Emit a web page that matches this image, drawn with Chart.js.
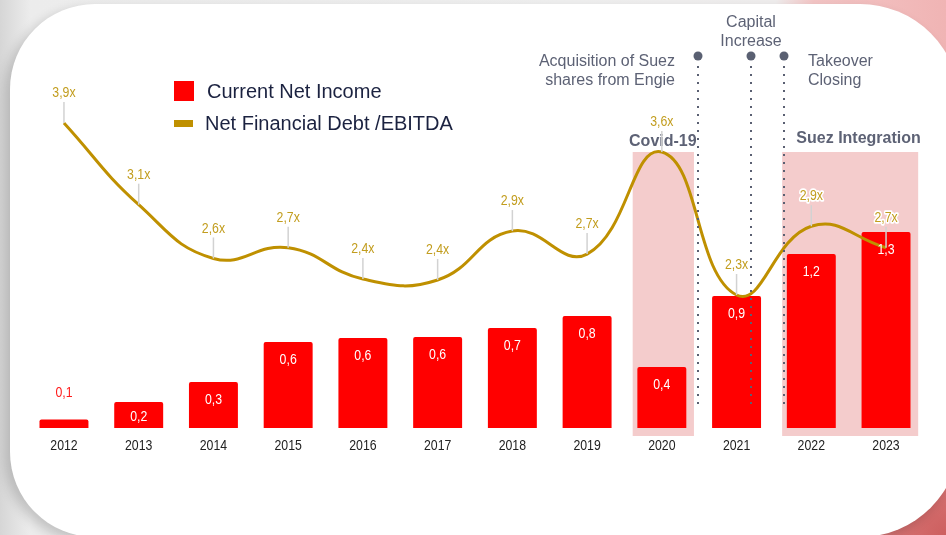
<!DOCTYPE html>
<html>
<head>
<meta charset="utf-8">
<script src="https://cdn.jsdelivr.net/npm/chart.js@4.4.1/dist/chart.umd.min.js"></script>
<style>
  html,body{margin:0;padding:0;}
  body{width:946px;height:535px;overflow:hidden;position:relative;
    background:
      radial-gradient(circle at 100% 100%, rgba(205,95,95,1) 0px, rgba(215,115,115,0.9) 70px, rgba(230,150,150,0) 230px),
      linear-gradient(to right, #d6d6d6 0px, #ececec 30px, #f0f0f0 60%, #f0eeee 82%, #f4c6c6 86%, #f0b4b4 100%);}
  #card{position:absolute;left:10px;top:4px;width:950px;height:533px;background:#fff;
    border-radius:85px 100px 100px 85px;box-shadow:-5px 5px 12px rgba(0,0,0,0.18);}
  #c{position:absolute;left:0;top:0;}
</style>
</head>
<body>
<div id="card"></div>
<canvas id="c" width="946" height="535"></canvas>
<script>
const categories = ['2012','2013','2014','2015','2016','2017','2018','2019','2020','2021','2022','2023'];
const netIncome  = [0.099, 0.212, 0.340, 0.596, 0.622, 0.628, 0.686, 0.763, 0.436, 0.891, 1.16, 1.301];
const debtRatio  = [3.90, 3.14, 2.64, 2.74, 2.449, 2.44, 2.895, 2.681, 3.63, 2.30, 2.94, 2.74];
const seriesNames = ['Current Net Income', 'Net Financial Debt /EBITDA'];
const periods = [
  {label:'Covid-19', from:8, to:8},
  {label:'Suez Integration', from:10, to:11}
];
const events = [
  {lines:['Acquisition of Suez','shares from Engie'], at:8.484, align:'right'},
  {lines:['Capital','Increase'], at:9.193, align:'center'},
  {lines:['Takeover','Closing'], at:9.635, align:'left'}
];

const SANS = '"Liberation Sans", Arial, sans-serif';
const RED = '#ff0000';
const GOLD = '#bf9000';
const LABEL_GOLD = '#c29d1e';
const GREY_TXT = '#5d6275';
const SQUEEZE = 0.82;
const BAR_AXIS_MIN = 0.0449;

function fmt(v){ return v.toFixed(1).replace('.', ','); }

// condensed text: regular sans squeezed horizontally
function narrowText(ctx, txt, x, y, size, color, halo){
  ctx.save();
  ctx.translate(x, y);
  ctx.scale(SQUEEZE, 1);
  ctx.font = size + 'px ' + SANS;
  ctx.textAlign = 'center';
  ctx.textBaseline = 'middle';
  if(halo){
    ctx.lineJoin = 'round';
    ctx.lineWidth = 3.5;
    ctx.strokeStyle = '#ffffff';
    ctx.strokeText(txt, 0, 0);
  }
  ctx.fillStyle = color;
  ctx.fillText(txt, 0, 0);
  ctx.restore();
}

const deco = {
  id:'deco',
  beforeDatasetsDraw(chart){
    const ctx = chart.ctx, xs = chart.scales.x, ca = chart.chartArea;
    ctx.save();
    ctx.fillStyle = 'rgba(236,170,170,0.6)';
    periods.forEach(p=>{
      const x0 = xs.getPixelForValue(p.from - 0.39);
      const x1 = xs.getPixelForValue(p.to + 0.43);
      ctx.fillRect(x0, ca.top + 52, x1 - x0, ca.bottom + 8 - (ca.top + 52));
    });
    ctx.restore();
  },
  afterDatasetsDraw(chart){
    const ctx = chart.ctx, xs = chart.scales.x, ca = chart.chartArea;
    const barMeta = chart.getDatasetMeta(1);
    const lineMeta = chart.getDatasetMeta(0);
    ctx.save();

    // category labels (x axis)
    chart.data.labels.forEach((lab, i)=>{
      narrowText(ctx, lab, xs.getPixelForValue(i), ca.bottom + 18, 15, '#222222', false);
    });

    // period titles
    ctx.font = 'bold 16px ' + SANS;
    ctx.fillStyle = GREY_TXT;
    ctx.textBaseline = 'middle';
    ctx.textAlign = 'center';
    ctx.fillText(periods[0].label, xs.getPixelForValue(periods[0].from) + 1, ca.top + 42);
    ctx.textAlign = 'left';
    ctx.fillText(periods[1].label, xs.getPixelForValue(periods[1].from - 0.2), ca.top + 39);

    // event dotted lines
    events.forEach(ev=>{
      const x = Math.round(xs.getPixelForValue(ev.at));
      ctx.fillStyle = '#5a6072';
      ctx.beginPath(); ctx.arc(x, 56, 4.5, 0, Math.PI*2); ctx.fill();
      for(let y = 66; y <= 404; y += 8){ ctx.fillRect(x-1, y, 2, 2); }
      ctx.font = '16px ' + SANS;
      ctx.fillStyle = GREY_TXT;
      ctx.textBaseline = 'middle';
      if(ev.align === 'right'){ ctx.textAlign='right'; ev.lines.forEach((t,i)=>ctx.fillText(t, x - 23, 62 + i*19)); }
      else if(ev.align === 'left'){ ctx.textAlign='left'; ev.lines.forEach((t,i)=>ctx.fillText(t, x + 24, 62 + i*19)); }
      else { ctx.textAlign='center'; ev.lines.forEach((t,i)=>ctx.fillText(t, x, 23 + i*19)); }
    });

    // bar labels
    barMeta.data.forEach((bar, i)=>{
      const h = bar.base - bar.y;
      const txt = fmt(netIncome[i]);
      if(h < 16){
        narrowText(ctx, txt, bar.x, bar.y - 27, 15, '#ff1a1a', true);
      } else {
        const y = Math.min(bar.y + 18, (bar.y + bar.base)/2 + 2);
        narrowText(ctx, txt, bar.x, y, 15, '#ffffff', false);
      }
    });

    // line labels with leaders
    lineMeta.data.forEach((pt, i)=>{
      ctx.strokeStyle = '#d2d2d2';
      ctx.lineWidth = 1.5;
      ctx.beginPath(); ctx.moveTo(pt.x, pt.y - 21); ctx.lineTo(pt.x, pt.y); ctx.stroke();
      narrowText(ctx, fmt(debtRatio[i]) + 'x', pt.x, pt.y - 30, 15, LABEL_GOLD, true);
    });

    // legend
    ctx.fillStyle = RED;
    ctx.fillRect(174, 81, 20, 20);
    ctx.fillStyle = GOLD;
    ctx.fillRect(174, 120, 19, 7);
    ctx.font = '20px ' + SANS;
    ctx.fillStyle = '#1b2240';
    ctx.textAlign = 'left';
    ctx.textBaseline = 'middle';
    ctx.fillText(chart.data.datasets[1].label, 207, 92);
    ctx.fillText(chart.data.datasets[0].label, 205, 124);
    ctx.restore();
  }
};

new Chart(document.getElementById('c'), {
  data:{
    labels: categories,
    datasets:[
      {type:'line', label:seriesNames[1], data:debtRatio, yAxisID:'yr', borderColor:GOLD, borderWidth:3,
       pointRadius:0, tension:0.45, fill:false, order:0},
      {type:'bar', label:seriesNames[0], data:netIncome, yAxisID:'yb', backgroundColor:RED,
       base:BAR_AXIS_MIN, borderRadius:2, borderSkipped:'bottom',
       categoryPercentage:1, barPercentage:0.655, order:1}
    ]
  },
  options:{
    responsive:false,
    animation:false,
    devicePixelRatio:1,
    layout:{padding:{left:26.6, right:22.6, top:100, bottom:107}},
    plugins:{legend:{display:false}, tooltip:{enabled:false}},
    scales:{
      x:{display:false},
      yb:{display:false, min:BAR_AXIS_MIN, max:2.1475},
      yr:{display:false, min:1.063, max:4.114}
    }
  },
  plugins:[deco]
});
</script>
</body>
</html>
